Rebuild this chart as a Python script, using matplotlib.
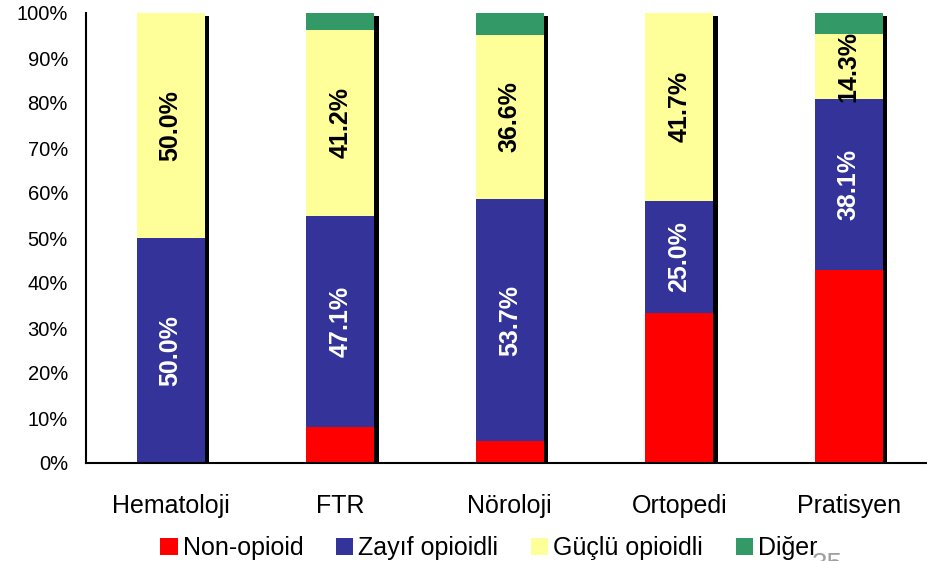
import matplotlib
matplotlib.use("Agg")
from matplotlib import pyplot as plt
from matplotlib.patches import Patch
import numpy as np

plt.rcParams["font.family"] = ["Liberation Sans", "DejaVu Sans"]

# data (percent of each department)
categories = ["Hematoloji", "FTR", "Nöroloji", "Ortopedi", "Pratisyen"]
non_opioid = [0.0, 7.9, 4.9, 33.3, 42.9]
zayif = [50.0, 47.1, 53.7, 25.0, 38.1]
guclu = [50.0, 41.2, 36.6, 41.7, 14.3]
diger = [0.0, 3.8, 4.8, 0.0, 4.7]

series_names = ["Non-opioid", "Zayıf opioidli", "Güçlü opioidli", "Diğer"]
colors = ["#FF0000", "#333399", "#FFFF99", "#339966"]
label_colors = [None, "white", "black", None]

fig = plt.figure(figsize=(9.28, 5.61), dpi=100)
ax = fig.add_axes([86 / 928, 98 / 561, 842 / 928, 450 / 561])

x = np.arange(len(categories))
width = 0.4
series = [non_opioid, zayif, guclu, diger]
totals = np.sum(series, axis=0)

# black shadow on the right side of every bar
ax.bar(x + 0.027, totals - 0.7, width, color="black", zorder=1)

bottom = np.zeros(len(categories))
for vals, name, col, lc in zip(series, series_names, colors, label_colors):
    vals = np.array(vals)
    ax.bar(x, vals, width, bottom=bottom, color=col, zorder=2, label=name)
    if lc is not None:
        for xi, b, v in zip(x, bottom, vals):
            if v > 0:
                ax.text(xi, b + v / 2, f"{v:.1f}%", rotation=90,
                        ha="center", va="center", color=lc,
                        fontsize=18, fontweight="bold", zorder=3)
    bottom += vals

ax.set_xlim(-0.5, 4.467)
ax.set_ylim(0, 100)
ax.set_yticks(np.arange(0, 101, 10))
ax.set_yticklabels([f"{v}%" for v in range(0, 101, 10)], fontsize=14.5)
ax.set_xticks(x)
ax.set_xticklabels(categories, fontsize=18)
ax.tick_params(axis="y", length=0, pad=13)
ax.tick_params(axis="x", length=0, pad=22)
for side in ["top", "right"]:
    ax.spines[side].set_visible(False)
for side in ["left", "bottom"]:
    ax.spines[side].set_linewidth(1.5)

handles = [Patch(facecolor=c, edgecolor="none") for c in colors]
fig.legend(handles, series_names, loc="center", ncol=4,
           bbox_to_anchor=(0.527, 13 / 561), frameon=False, fontsize=18,
           handlelength=0.7, handleheight=0.7, handletextpad=0.2,
           columnspacing=1.3, borderaxespad=0)

# partially visible slide number at the bottom edge
fig.text(812 / 928, -17 / 561, "35", color="#A0A0A0", fontsize=20,
         ha="left", va="bottom", zorder=0)

fig.savefig("out.png", dpi=100)
